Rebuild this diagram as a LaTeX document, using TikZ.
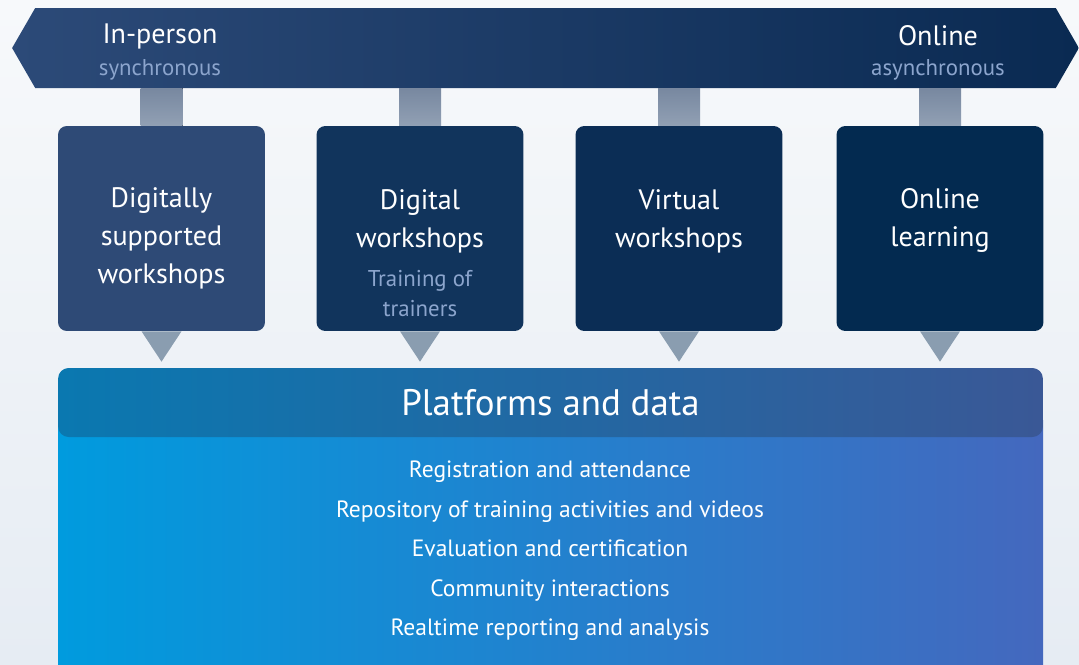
\documentclass[tikz,border=0pt]{standalone}
\usepackage{fontspec}
\setmainfont{PT Sans}
\usepackage{tikz}
\usetikzlibrary{calc}
\usetikzlibrary{shapes.symbols}

\definecolor{bgtop}{RGB}{247,249,251}
\definecolor{bgbot}{RGB}{230,236,243}
\definecolor{bannerL}{RGB}{44,74,120}
\definecolor{bannerR}{RGB}{10,42,82}
\definecolor{subtxt}{RGB}{140,165,205}
\definecolor{boxA}{RGB}{46,74,118}
\definecolor{boxB}{RGB}{17,52,92}
\definecolor{boxC}{RGB}{11,45,85}
\definecolor{boxD}{RGB}{3,42,80}
\definecolor{barT}{RGB}{120,136,160}
\definecolor{barB}{RGB}{145,160,180}
\definecolor{tri}{RGB}{138,157,176}
\definecolor{headL}{RGB}{10,120,176}
\definecolor{headR}{RGB}{58,88,150}
\definecolor{bodyL}{RGB}{0,155,222}
\definecolor{bodyR}{RGB}{68,104,190}

\begin{document}
\begin{tikzpicture}[x=0.02cm,y=-0.02cm,
    box/.style={rounded corners=5pt,minimum width=4.14cm,minimum height=4.1cm,inner sep=0pt},
    boxtext/.style={text=white,align=center,font=\fontsize{16}{21.6}\selectfont},
    boxsub/.style={text=subtxt,align=center,font=\fontsize{13}{17}\selectfont},
    bar/.style={top color=barT,bottom color=barB,draw=none},
    arrowtri/.style={fill=tri,draw=none}]
    \useasboundingbox (0,0) rectangle (1079,664);
    \fill[top color=bgtop,bottom color=bgbot] (0,0) rectangle (1079,664);
    % top banner
    \node[signal,signal to=west and east,signal pointer angle=120,
        left color=bannerL,right color=bannerR,inner sep=0pt,
        minimum width=21.34cm,minimum height=1.6cm] (banner) at (545.5,48) {};
    \node[text=white,font=\fontsize{16}{18}\selectfont] (inperson) at (160,36) {In-person};
    \node[text=subtxt,font=\fontsize{13}{15}\selectfont] (sync) at (160,70) {synchronous};
    \node[text=white,font=\fontsize{16}{18}\selectfont] (online) at (938,36) {Online};
    \node[text=subtxt,font=\fontsize{13}{15}\selectfont] (async) at (938,70) {asynchronous};
    % four boxes
    \node[box,fill=boxA] (b1) at (161.5,228.5) {};
    \node[box,fill=boxB] (b2) at (420,228.5) {};
    \node[box,fill=boxC] (b3) at (679,228.5) {};
    \node[box,fill=boxD] (b4) at (940,228.5) {};
    \node[boxtext] (t1) at ($(b1.center)+(0,10)$) {Digitally\\supported\\workshops};
    \node[boxtext] (t2) at ($(b2.center)+(0,-7)$) {Digital\\workshops};
    \node[boxsub] (s2) at ($(b2.center)+(0,65)$) {Training of\\trainers};
    \node[boxtext] (t3) at ($(b3.center)+(0,-7)$) {Virtual\\workshops};
    \node[boxtext] (t4) at ($(b4.center)+(0,-8)$) {Online\\learning};
    \foreach \b in {b1,b2,b3,b4}{
        \fill[bar] ($(\b.north |- banner.south)+(-21,0)$) rectangle ($(\b.north)+(21,0)$);
    }
    % platforms and data
    \fill[left color=bodyL,right color=bodyR] (58,420) rectangle (1043,664);
    \node[rounded corners=6pt,left color=headL,right color=headR,inner sep=0pt,
        minimum width=19.7cm,minimum height=1.38cm,text=white,
        font=\fontsize{21}{24}\selectfont] (plat) at (550.5,402.5) {Platforms and data};
    \node[text=white,align=center,font=\fontsize{13.4}{22.5}\selectfont] (items) at (550,551)
        {Registration and attendance\\Repository of training activities and videos\\Evaluation and certification\\Community interactions\\Realtime reporting and analysis};
    \foreach \b in {b1,b2,b3,b4}{
        \fill[arrowtri] ($(\b.south)+(-20,0)$) -- ($(\b.south)+(20,0)$) -- ($(\b.south |- plat.north)+(0,-6)$) -- cycle;
    }
\end{tikzpicture}
\end{document}
